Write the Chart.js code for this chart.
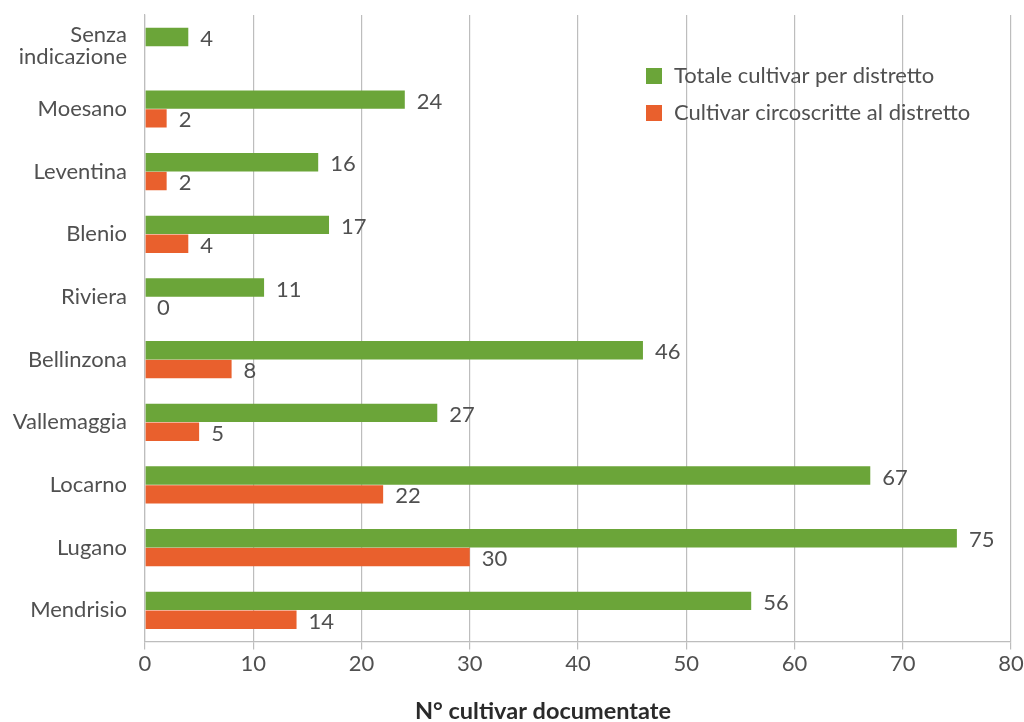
<!DOCTYPE html>
<html>
<head>
<meta charset="utf-8">
<script src="https://cdn.jsdelivr.net/npm/chart.js@4"></script>
<style>
  html, body { margin: 0; padding: 0; background: #fff; }
  #wrap { width: 1024px; height: 722px; }
</style>
</head>
<body>
<div id="wrap"><canvas id="chart" width="1024" height="722"></canvas></div>
<script>
const districts = [["Senza", "indicazione"], "Moesano", "Leventina", "Blenio", "Riviera",
  "Bellinzona", "Vallemaggia", "Locarno", "Lugano", "Mendrisio"];
const totalCultivar = [4, 24, 16, 17, 11, 46, 27, 67, 75, 56];
const localCultivar = [null, 2, 2, 4, 0, 8, 5, 22, 30, 14];
const xTicks = [0, 10, 20, 30, 40, 50, 60, 70, 80];
const xTitle = "N° cultivar documentate";

const GREEN = "#6ba539";
const ORANGE = "#e9602d";
const TEXT = "#505050";
const FONT = "Lato, 'Open Sans', sans-serif";

// value labels to the right of each bar
const valueLabels = {
  id: "valueLabels",
  afterDatasetsDraw(chart) {
    const ctx = chart.ctx;
    ctx.save();
    ctx.font = "22px " + FONT;
    ctx.fillStyle = TEXT;
    ctx.textAlign = "left";
    ctx.textBaseline = "middle";
    chart.data.datasets.forEach((ds, i) => {
      chart.getDatasetMeta(i).data.forEach((bar, j) => {
        const v = ds.data[j];
        if (v === null || v === undefined) return;
        ctx.fillText(String(v), bar.x + 12, bar.y + 2);
      });
    });
    ctx.restore();
  }
};

// legend inside the plot, top right + axis title
const extras = {
  id: "extras",
  afterDraw(chart) {
    const ctx = chart.ctx;
    ctx.save();
    ctx.font = "22px " + FONT;
    ctx.textBaseline = "middle";
    chart.data.datasets.forEach((ds, i) => {
      const y = 76 + i * 37;
      ctx.fillStyle = ds.backgroundColor;
      ctx.fillRect(646, y - 8, 16, 16);
      ctx.fillStyle = TEXT;
      ctx.fillText(ds.label, 674, y);
    });
    ctx.font = "bold 23.5px " + FONT;
    ctx.fillStyle = "#2a2a2a";
    ctx.textAlign = "center";
    ctx.fillText(xTitle, 543, 711);
    ctx.restore();
  }
};

new Chart(document.getElementById("chart"), {
  type: "bar",
  data: {
    labels: districts,
    datasets: [
      { label: "Totale cultivar per distretto", data: totalCultivar, backgroundColor: GREEN,
        categoryPercentage: 0.6, barPercentage: 0.98 },
      { label: "Cultivar circoscritte al distretto", data: localCultivar, backgroundColor: ORANGE,
        categoryPercentage: 0.6, barPercentage: 0.98 }
    ]
  },
  options: {
    indexAxis: "y",
    responsive: false,
    animation: false,
    layout: { padding: { top: 15, right: 13, left: 0, bottom: 44 } },
    plugins: {
      legend: { display: false },
      tooltip: { enabled: false }
    },
    scales: {
      x: {
        min: 0,
        max: 80,
        afterBuildTicks(axis) { axis.ticks = xTicks.map(v => ({ value: v })); },
        afterFit(axis) { axis.paddingLeft = 0; axis.paddingRight = 0; },
        grid: { color: "#bdbdbd", lineWidth: 1.2, tickLength: 8 },
        border: { color: "#bdbdbd", width: 1.2 },
        ticks: { color: TEXT, font: { family: FONT, size: 22 }, padding: 1 }
      },
      y: {
        afterFit(axis) { axis.width = 145; axis.paddingTop = 0; axis.paddingBottom = 0; },
        grid: { display: false },
        border: { color: "#bdbdbd", width: 1.2 },
        ticks: { color: TEXT, font: { family: FONT, size: 22, lineHeight: 1.0 }, padding: 10 }
      }
    }
  },
  plugins: [valueLabels, extras]
});
</script>
</body>
</html>
